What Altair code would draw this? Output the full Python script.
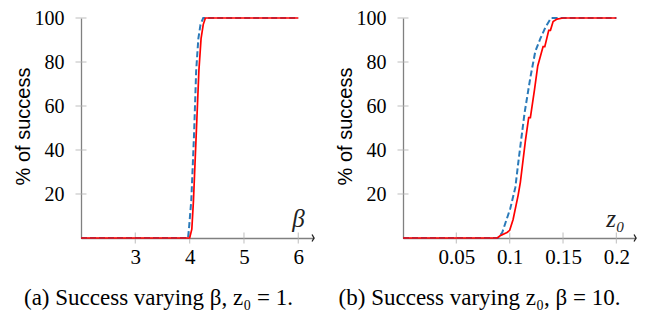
import altair as alt
import pandas as pd

# ---- data ----
# Panel (a): success (%) versus beta, z0 = 1
beta_blue_x = [2.0, 3.97, 3.99, 4.03, 4.08, 4.12, 4.16, 4.20, 4.25, 6.0]
beta_blue_y = [0, 0, 5, 17, 46.5, 76, 90.6, 97, 100, 100]
beta_red_x = [2.0, 4.0, 4.04, 4.07, 4.12, 4.17, 4.21, 4.25, 4.29, 6.0]
beta_red_y = [0, 0, 4, 17, 46.5, 76, 90.6, 97, 100, 100]

# Panel (b): success (%) versus z0, beta = 10
z0_blue_x = [0.0, 0.089, 0.093, 0.1006, 0.1053, 0.1085, 0.114, 0.1194, 0.124, 0.1288, 0.1335, 0.1388, 0.2]
z0_blue_y = [0, 0, 2.5, 13.5, 23, 36, 57, 73, 84.8, 90.7, 95.8, 100, 100]
z0_red_x = [0.0, 0.0885, 0.091, 0.0975, 0.100, 0.1032, 0.1079, 0.110, 0.1147, 0.1178, 0.1194,
            0.1232, 0.1263, 0.1313, 0.1329, 0.1366, 0.1382, 0.1407, 0.1444, 0.150, 0.2]
z0_red_y = [0, 0, 1, 2.5, 3.5, 8.4, 19.4, 25.3, 44, 54.7, 54.7,
            67.2, 78.2, 87, 87, 94.4, 94.4, 98.4, 99.5, 100, 100]

beta_ticks = [3, 4, 5, 6]
z0_ticks = [0.05, 0.1, 0.15, 0.2]
y_ticks = [20, 40, 60, 80, 100]

SERIF = "Liberation Serif"
SANS = "Liberation Sans"
GREY = "#808080"
TICKGREY = "#b0b0b0"
BLUE = "#2a7ab9"
RED = "#ff0000"
W, H = 233, 220


def panel(bx, by, rx, ry, xmin, xmax, xticks, xtitle, xtitle_x, caption, cap_dx):
    blue = pd.DataFrame({"x": bx, "y": by})
    red = pd.DataFrame({"x": rx, "y": ry})
    yt = pd.DataFrame({"x": [xmin] * len(y_ticks), "y": y_ticks})
    xt = pd.DataFrame({"x": xticks, "y": [0] * len(xticks)})
    arrow = pd.DataFrame({"x": [xmax], "y": [0]})

    xaxis = alt.Axis(values=xticks, format="~g", ticks=False, grid=False,
                     domainColor=GREY, domainWidth=1.3, labelFont=SERIF,
                     labelFontSize=21, labelColor="black", labelPadding=8,
                     labelFlush=False, title=xtitle, titleFont=SERIF,
                     titleFontStyle="italic", titleFontWeight="normal",
                     titleFontSize=25, titleColor="#222222", titleX=xtitle_x,
                     titleY=-20, titleAlign="center", titleBaseline="middle")
    yaxis = alt.Axis(values=y_ticks, ticks=False, grid=False,
                     domainColor=GREY, domainWidth=1.3, labelFont=SERIF,
                     labelFontSize=20, labelColor="black", labelPadding=17,
                     labelFlush=False, title="% of success", titleFont=SANS,
                     titleFontSize=20, titleFontWeight="normal",
                     titleColor="black", titleX=-58, titleY=108,
                     titleAngle=270, titleAlign="center", titleBaseline="middle")
    X = alt.X("x:Q", scale=alt.Scale(domain=[xmin, xmax], nice=False, zero=False), axis=xaxis)
    Y = alt.Y("y:Q", scale=alt.Scale(domain=[0, 100], nice=False), axis=yaxis)

    ytick = alt.Chart(yt).mark_tick(orient="horizontal", size=11, thickness=1.2,
                                    color=TICKGREY).encode(x=X, y=Y)
    xtick = alt.Chart(xt).mark_tick(orient="vertical", size=11, thickness=1.2,
                                    color=TICKGREY).encode(x=X, y=Y)
    arr = alt.Chart(arrow).mark_point(shape="M -0.55 -1 L 0 0 L -0.55 1", filled=False,
                                      size=50, strokeWidth=1.3, color="#222222",
                                      opacity=1).encode(x=X, y=Y)
    lb = alt.Chart(blue).mark_line(color=BLUE, strokeWidth=2.0,
                                   strokeDash=[6, 3]).encode(x=X, y=Y)
    lr = alt.Chart(red).mark_line(color=RED, strokeWidth=1.7).encode(x=X, y=Y)
    return alt.layer(ytick, xtick, arr, lb, lr).properties(
        width=W, height=H,
        title=alt.TitleParams(caption, orient="bottom", font=SERIF, fontSize=23,
                              fontWeight="normal", color="black", anchor="middle",
                              dx=cap_dx, offset=20),
    )


pa = panel(beta_blue_x, beta_blue_y, beta_red_x, beta_red_y, 2.0, 6.289, beta_ticks,
           "β", 217, "(a) Success varying β, z₀ = 1.", -39)
pb = panel(z0_blue_x, z0_blue_y, z0_red_x, z0_red_y, 0.0, 0.2184, z0_ticks,
           "z₀", 212, "(b) Success varying z₀, β = 10.", -40)

chart = alt.hconcat(pa, pb, spacing=89, bounds="flush").configure_view(
    stroke=None
).properties(padding={"top": 0, "left": 5, "right": 5, "bottom": 5})

chart.save("out.html", embed_options={"renderer": "svg", "actions": False})
